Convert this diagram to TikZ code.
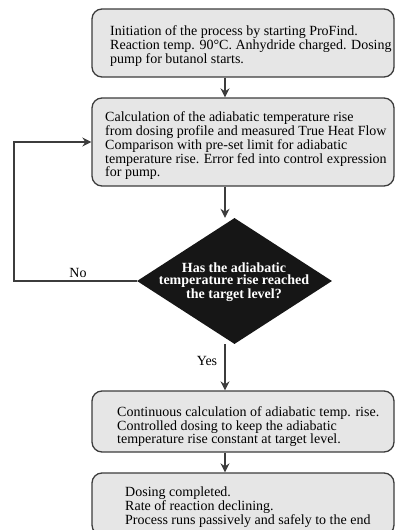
\documentclass[tikz,border=0pt]{standalone}
\usepackage{fontspec}
\setmainfont{Liberation Serif}
\usetikzlibrary{shapes.geometric,arrows.meta}
\definecolor{boxfill}{HTML}{E6E6E6}
\definecolor{lineg}{HTML}{3C3C3C}
\definecolor{diafill}{HTML}{161616}
\begin{document}
\begin{tikzpicture}[x=1pt,y=-1pt,
  box/.style={draw=lineg,line width=1.3pt,fill=boxfill,rounded corners=10pt,minimum width=302pt,inner sep=0pt},
  txt/.style={anchor=north west,align=left,inner sep=0pt},
  arr/.style={draw=lineg,line width=1.3pt,-{Stealth[length=9pt,width=9pt]}},
  dia/.style={diamond,fill=diafill,minimum width=195pt,minimum height=126pt,inner sep=0pt},
  lab/.style={font=\fontsize{14}{14}\selectfont,inner sep=0pt,anchor=base}]
\useasboundingbox (0,0) rectangle (395,530);
\coordinate (ax) at (225,0);
\coordinate (fbx) at (14,0);
\node[box,minimum height=68pt] (b1) at (243,43) {};
\node[box,minimum height=88pt] (b2) at (243,142) {};
\node[dia] (d) at (234.5,281) {};
\node[box,minimum height=61pt] (b3) at (243,421.5) {};
\node[box,minimum height=62pt] (b4) at (243,504) {};
\node[txt,font=\fontsize{14}{12.7}\selectfont] (t1) at (110,25.5) {Initiation of the process by starting ProFind.\\Reaction temp. 90°C. Anhydride charged. Dosing\\pump for butanol starts.};
\node[txt,font=\fontsize{14}{12.75}\selectfont] (t2) at (105,111.5) {Calculation of the adiabatic temperature rise\\from dosing profile and measured True Heat Flow\\Comparison with pre-set limit for adiabatic\\temperature rise. Error fed into control expression\\for pump.};
\node[txt,font=\fontsize{14}{11.5}\selectfont] (t3) at (117,406.5) {Continuous calculation of adiabatic temp. rise.\\Controlled dosing to keep the adiabatic\\temperature rise constant at target level.};
\node[txt,font=\fontsize{14}{12.8}\selectfont] (t4) at (125,486.5) {Dosing completed.\\Rate of reaction declining.\\Process runs passively and safely to the end};
\node[anchor=north,align=center,text=white,inner sep=0pt,font=\bfseries\fontsize{14}{12.5}\selectfont] (dt) at (234,262.5) {Has the adiabatic\\temperature rise reached\\the target level?};
\node[lab] (no) at (78,277) {No};
\node[lab] (yes) at (207,365) {Yes};
\draw[arr] (b1.south -| ax) -- (b2.north -| ax);
\draw[arr] (b2.south -| ax) -- (d.north -| ax);
\draw[arr] (d.south -| ax) -- (b3.north -| ax);
\draw[arr] (b3.south -| ax) -- (b4.north -| ax);
\draw[arr] (d.west) -- (d.west -| fbx) |- (b2.west);
\end{tikzpicture}
\end{document}
